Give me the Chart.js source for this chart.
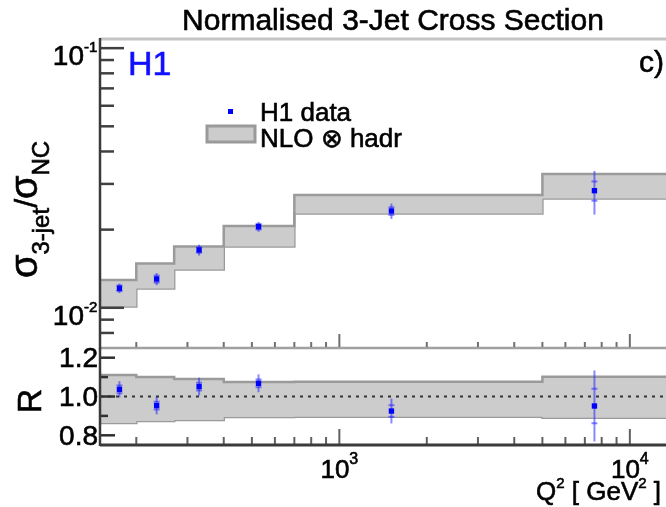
<!DOCTYPE html>
<html>
<head>
<meta charset="utf-8">
<script src="https://cdn.jsdelivr.net/npm/chart.js@4.4.1/dist/chart.umd.min.js"></script>
<style>
html, body { margin: 0; padding: 0; background: #fff; overflow: hidden; }
#wrap { position: relative; width: 666px; height: 507px; overflow: hidden; }
#wrap canvas { position: absolute; left: 0; top: 0; }
</style>
</head>
<body>
<div id="wrap">
    <canvas id="xsecChart" width="720" height="507" style="width:720px;height:507px"></canvas>
    <canvas id="ratioChart" width="720" height="507" style="width:720px;height:507px"></canvas>
</div>
<script>
// Data
const binEdges = [150, 200, 270, 400, 700, 5000, 15000];
const q2Mean = [175, 235, 329, 527, 1511, 7553];
const xsecData = [0.01189, 0.01291, 0.01670, 0.02053, 0.02359, 0.02825];
const xsecTotErr = [0.0005, 0.0007, 0.0008, 0.0009, 0.0016, 0.0054];
const xsecStatErr = [0.0003, 0.0004, 0.0004, 0.0005, 0.0008, 0.0024];
const nloLow = [0.01012, 0.01187, 0.01405, 0.01722, 0.02308, 0.02636];
const nloHigh = [0.01279, 0.01481, 0.01722, 0.02066, 0.02720, 0.03276];

const ratioData = [1.037, 0.953, 1.051, 1.068, 0.925, 0.951];
const ratioTotErr = [0.042, 0.045, 0.046, 0.046, 0.064, 0.183];
const ratioStatErr = [0.02, 0.02, 0.02, 0.02, 0.03, 0.089];
const ratioLow = [0.864, 0.874, 0.879, 0.894, 0.896, 0.891];
const ratioHigh = [1.111, 1.100, 1.090, 1.075, 1.076, 1.102];
const ratioRef = 1.0;

// Ticks
const xMajorTicks = [1000, 10000];
const xMajorExp = ['3', '4'];
const xMinorTicks = [200, 300, 400, 500, 600, 700, 800, 900, 2000, 3000, 4000, 5000, 6000, 7000, 8000, 9000];
const yMajorTicks = [0.1, 0.01];
const yMajorExp = ['-1', '-2'];
const yMinorTicks = [0.008, 0.009, 0.02, 0.03, 0.04, 0.05, 0.06, 0.07, 0.08, 0.09];
const rMajorTicks = [0.8, 1.0, 1.2];
const rTickLabels = ['0.8', '1.0', '1.2'];
const rMinorTicks = [0.9, 1.1];

const FONT = '"Liberation Sans", Arial, Helvetica, sans-serif';
const BLUE = '#0000ff';
const BAND_FILL = '#cccccc', BAND_LINE = '#9a9a9a';

const stepPoints = vals => binEdges.map((e, i) => ({ x: e, y: vals[Math.min(i, vals.length - 1)] }));
const points = vals => q2Mean.map((x, i) => ({ x: x, y: vals[i] }));

// text slightly heavier, like the blurry original
function txt(ctx, s, x, y) {
    ctx.fillText(s, x, y);
    ctx.lineWidth = 0.6;
    ctx.strokeStyle = ctx.fillStyle;
    ctx.strokeText(s, x, y);
}

// draw a row of text pieces, each {t, size, dy}
function runsWidth(ctx, runs) {
    let w = 0;
    runs.forEach(r => { ctx.font = r.size + 'px ' + FONT; w += ctx.measureText(r.t).width; });
    return w;
}
function drawRuns(ctx, x, y, runs) {
    ctx.textAlign = 'left';
    ctx.textBaseline = 'alphabetic';
    runs.forEach(r => {
        ctx.font = r.size + 'px ' + FONT;
        txt(ctx, r.t, x, y + (r.dy || 0));
        x += ctx.measureText(r.t).width;
    });
}
function line(ctx, x1, y1, x2, y2, color, w) {
    ctx.strokeStyle = color; ctx.lineWidth = w;
    ctx.beginPath(); ctx.moveTo(x1, y1); ctx.lineTo(x2, y2); ctx.stroke();
}

// error bars drawn just before the data markers
function errorBarPlugin(totErr, statErr) {
    return {
        id: 'errbars',
        beforeDatasetDraw(chart, args) {
            if (args.index !== 2) return;
            const ctx = chart.ctx, xs = chart.scales.x, ys = chart.scales.y;
            ctx.save();
            chart.data.datasets[2].data.forEach((p, i) => {
                const px = xs.getPixelForValue(p.x);
                line(ctx, px, ys.getPixelForValue(p.y + totErr[i]), px, ys.getPixelForValue(p.y - totErr[i]), 'rgba(40,40,255,0.55)', 2);
                [p.y + statErr[i], p.y - statErr[i]].forEach(v => {
                    const py = ys.getPixelForValue(v);
                    line(ctx, px - 3, py, px + 3, py, 'rgba(40,40,255,0.55)', 2);
                });
            });
            ctx.restore();
        }
    };
}

function xTicks(ctx, xs, yBase, majLen, minLen, color) {
    xMajorTicks.forEach(v => { const px = xs.getPixelForValue(v); line(ctx, px, yBase, px, yBase - majLen, color, 2); });
    xMinorTicks.forEach(v => { const px = xs.getPixelForValue(v); line(ctx, px, yBase, px, yBase - minLen, color, 2); });
}

const topFrame = {
    id: 'topFrame',
    afterDraw(chart) {
        const ctx = chart.ctx, a = chart.chartArea, xs = chart.scales.x, ys = chart.scales.y;
        ctx.save();
        line(ctx, a.left, a.top - 1, a.right, a.top - 1, '#c4c4c4', 3);
        line(ctx, a.left, a.bottom, a.right, a.bottom, '#a0a0a0', 2.5);
        xTicks(ctx, xs, a.bottom - 1, 13, 5, '#707070');
        yMajorTicks.forEach(v => { const py = ys.getPixelForValue(v); line(ctx, a.left, py, a.left + 24, py, '#404040', 2.5); });
        yMinorTicks.forEach(v => { const py = ys.getPixelForValue(v); line(ctx, a.left, py, a.left + 14, py, '#404040', 2.5); });
        line(ctx, a.left, a.top - 2, a.left, a.bottom + 1, '#3a3a3a', 2.5);

        ctx.fillStyle = '#000';
        yMajorTicks.forEach((v, i) => {
            const py = ys.getPixelForValue(v);
            ctx.font = '28px ' + FONT;
            const w = ctx.measureText('10').width;
            drawRuns(ctx, 84 - w, py + 17, [{ t: '10', size: 28 }, { t: yMajorExp[i], size: 15, dy: -13 }]);
        });

        // title and labels
        ctx.font = '30px ' + FONT;
        ctx.textAlign = 'center';
        txt(ctx, 'Normalised 3-Jet Cross Section', 393, 30);
        ctx.fillStyle = '#1010ff';
        ctx.font = '34px ' + FONT;
        ctx.textAlign = 'left';
        txt(ctx, 'H1', 128, 75);
        ctx.fillStyle = '#000';
        ctx.font = '30px ' + FONT;
        txt(ctx, 'c)', 639, 72);

        // legend
        ctx.fillStyle = BLUE;
        ctx.fillRect(228, 109, 5, 5);
        ctx.fillStyle = BAND_FILL;
        ctx.fillRect(207, 126, 48, 16);
        ctx.strokeStyle = BAND_LINE; ctx.lineWidth = 3;
        ctx.strokeRect(207, 126, 48, 16);
        ctx.fillStyle = '#000';
        ctx.font = '26px ' + FONT;
        txt(ctx, 'H1 data', 260, 121);
        txt(ctx, 'NLO \u2297 hadr', 260, 147);

        // y title, rotated
        ctx.save();
        ctx.translate(37, 278);
        ctx.rotate(-Math.PI / 2);
        drawRuns(ctx, 0, 0, [
            { t: '\u03c3', size: 38 }, { t: '3-jet', size: 24, dy: 12 },
            { t: '/', size: 32 }, { t: '\u03c3', size: 38 }, { t: 'NC', size: 24, dy: 12 }
        ]);
        ctx.restore();
        ctx.restore();
    }
};

const bottomFrame = {
    id: 'bottomFrame',
    afterDraw(chart) {
        const ctx = chart.ctx, a = chart.chartArea, xs = chart.scales.x, ys = chart.scales.y;
        ctx.save();
        xTicks(ctx, xs, a.bottom - 1, 15, 7, '#606060');
        rMajorTicks.forEach(v => { const py = ys.getPixelForValue(v); line(ctx, a.left, py, a.left + 15, py, '#303030', 2.5); });
        rMinorTicks.forEach(v => { const py = ys.getPixelForValue(v); line(ctx, a.left, py, a.left + 8, py, '#303030', 2.5); });
        line(ctx, a.left, a.bottom, a.right, a.bottom, '#3a3a3a', 3);
        line(ctx, a.left, a.top, a.left, a.bottom + 1, '#3a3a3a', 2.5);

        ctx.fillStyle = '#000';
        ctx.font = '28px ' + FONT;
        ctx.textAlign = 'right';
        ctx.textBaseline = 'middle';
        rMajorTicks.forEach((v, i) => txt(ctx, rTickLabels[i], 98, ys.getPixelForValue(v) + 2));

        xMajorTicks.forEach((v, i) => {
            const runs = [{ t: '10', size: 26 }, { t: xMajorExp[i], size: 16, dy: -14 }];
            const w = runsWidth(ctx, runs);
            drawRuns(ctx, xs.getPixelForValue(v) - w / 2, 478, runs);
        });

        drawRuns(ctx, 536, 500, [
            { t: 'Q', size: 26 }, { t: '2', size: 15, dy: -12 }, { t: ' [ GeV', size: 26 },
            { t: '2', size: 15, dy: -12 }, { t: ' ]', size: 26 }
        ]);

        ctx.save();
        ctx.translate(41, 401);
        ctx.rotate(-Math.PI / 2);
        ctx.font = '34px ' + FONT;
        ctx.textAlign = 'center';
        ctx.textBaseline = 'alphabetic';
        txt(ctx, 'R', 0, 0);
        ctx.restore();
        ctx.restore();
    }
};

const baseOptions = (yScale, pad) => ({
    responsive: false,
    animation: false,
    events: [],
    layout: { padding: pad },
    plugins: { legend: { display: false }, tooltip: { enabled: false } },
    scales: {
        x: { type: 'logarithmic', min: binEdges[0], max: binEdges[binEdges.length - 1], display: false },
        y: yScale
    }
});

// each bin value holds from its left edge to the next edge
const bandSet = (vals, fill) => ({
    type: 'line', data: stepPoints(vals), stepped: 'before',
    borderColor: BAND_LINE, borderWidth: 2.5, backgroundColor: BAND_FILL,
    fill: fill, pointRadius: 0, order: 3
});
const dataSet = vals => ({
    type: 'scatter', data: points(vals), pointStyle: 'rect', pointRadius: 3.8,
    backgroundColor: BLUE, borderWidth: 0, order: 0
});

// Upper panel: cross section ratio
new Chart(document.getElementById('xsecChart'), {
    type: 'line',
    data: { datasets: [bandSet(nloHigh, '+1'), bandSet(nloLow, false), dataSet(xsecData)] },
    options: baseOptions({ type: 'logarithmic', min: 0.007, max: 0.1075, display: false },
        { left: 100, right: 39, top: 40, bottom: 159 }),
    plugins: [errorBarPlugin(xsecTotErr, xsecStatErr), topFrame]
});

// Lower panel: data / theory
new Chart(document.getElementById('ratioChart'), {
    type: 'line',
    data: {
        datasets: [
            bandSet(ratioHigh, '+1'), bandSet(ratioLow, false), dataSet(ratioData),
            {
                type: 'line', data: [{ x: binEdges[0], y: ratioRef }, { x: binEdges[binEdges.length - 1], y: ratioRef }],
                borderColor: '#333', borderWidth: 2, borderDash: [3, 5], pointRadius: 0, fill: false, order: 1
            }
        ]
    },
    options: baseOptions({ type: 'linear', min: 0.75, max: 1.25, display: false },
        { left: 100, right: 39, top: 348, bottom: 62 }),
    plugins: [errorBarPlugin(ratioTotErr, ratioStatErr), bottomFrame]
});
</script>
</body>
</html>
